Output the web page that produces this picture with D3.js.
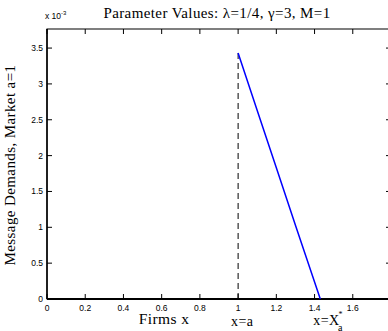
<!DOCTYPE html>
<html>
<head>
<meta charset="utf-8">
<title>Message Demands</title>
<script src="https://cdn.jsdelivr.net/npm/d3@7"></script>
<style>
  body { margin: 0; background: #fff; }
  svg text { fill: #000; }
  .tick-label { font-family: "Liberation Sans", Arial, sans-serif; font-size: 8.5px; }
  .serif { font-family: "Liberation Serif", "DejaVu Serif", serif; letter-spacing: 0.4px; }
</style>
</head>
<body>
<svg id="chart" width="388" height="331"></svg>
<script>
// demand curve for market a=1 (values in units of 1e-3)
var firmsX = [1.0, 1.1, 1.2, 1.3, 1.43];
var demand = [3.43, 2.63, 1.83, 1.03, 0];
var xTicks = [0, 0.2, 0.4, 0.6, 0.8, 1, 1.2, 1.4, 1.6, 1.8];
var xTickLabels = ['0', '0.2', '0.4', '0.6', '0.8', '1', '1.2', '1.4', '1.6', ''];
var yTicks = [0, 0.5, 1, 1.5, 2, 2.5, 3, 3.5];
var yTickLabels = ['0', '0.5', '1', '1.5', '2', '2.5', '3', '3.5'];
var xMark = 1;       // x=a
var xStar = 1.43;    // x=X*_a

var svg = d3.select('#chart');
// plot box edges (note: "top" is reserved on window, so use pTop etc.)
var pLeft = 47, pRight = 391, pTop = 29, pBottom = 299;

var x = d3.scaleLinear().domain([0, 1.8]).range([pLeft, pRight]);
var y = d3.scaleLinear().domain([0, 3.766]).range([pBottom, pTop]);

// ticks, all pointing inward
var tl = 5;
var g = svg.append('g');
xTicks.forEach(function(t, i) {
  g.append('line').attr('x1', x(t)).attr('x2', x(t)).attr('y1', pBottom).attr('y2', pBottom - tl)
    .attr('stroke', '#000');
  g.append('line').attr('x1', x(t)).attr('x2', x(t)).attr('y1', pTop).attr('y2', pTop + tl)
    .attr('stroke', '#000');
  g.append('text').attr('class', 'tick-label').attr('x', x(t)).attr('y', pBottom + 12)
    .attr('text-anchor', 'middle').text(xTickLabels[i]);
});
yTicks.forEach(function(t, i) {
  g.append('line').attr('x1', pLeft).attr('x2', pLeft + tl).attr('y1', y(t)).attr('y2', y(t))
    .attr('stroke', '#000');
  g.append('line').attr('x1', pRight).attr('x2', pRight - tl).attr('y1', y(t)).attr('y2', y(t))
    .attr('stroke', '#000');
  g.append('text').attr('class', 'tick-label').attr('x', pLeft - 4).attr('y', y(t) + 3)
    .attr('text-anchor', 'end').text(yTickLabels[i]);
});

// box
svg.append('rect').attr('x', pLeft).attr('y', pTop).attr('width', pRight - pLeft).attr('height', pBottom - pTop)
  .attr('fill', 'none').attr('stroke', '#000').attr('stroke-width', 1);
svg.append('line').attr('x1', pLeft).attr('x2', pRight).attr('y1', pBottom).attr('y2', pBottom)
  .attr('stroke', '#000').attr('stroke-width', 2);
svg.append('line').attr('x1', pLeft).attr('x2', pLeft).attr('y1', pTop).attr('y2', pBottom)
  .attr('stroke', '#000').attr('stroke-width', 1.5);

// exponent
var ex = svg.append('text').attr('class', 'tick-label').attr('x', pLeft - 2).attr('y', 19).attr('font-size', '8px');
ex.append('tspan').text('x 10');
ex.append('tspan').attr('dy', -4).attr('font-size', '6px').text('-3');

// dashed line at x=a
svg.append('line').attr('x1', x(xMark)).attr('x2', x(xMark)).attr('y1', y(0)).attr('y2', y(demand[0]))
  .attr('stroke', '#000').attr('stroke-dasharray', '6,4');

// demand curve
var line = d3.line().x(function(d, i) { return x(firmsX[i]); }).y(function(d) { return y(d); });
svg.append('path').datum(demand).attr('d', line).attr('fill', 'none')
  .attr('stroke', '#0000ff').attr('stroke-width', 1.5);

// title and labels
svg.append('text').attr('class', 'serif').attr('x', (pLeft + pRight) / 2 - 2).attr('y', 18)
  .attr('text-anchor', 'middle').attr('font-size', '15px')
  .text('Parameter Values: \u03bb=1/4, \u03b3=3, M=1');
svg.append('text').attr('class', 'serif').attr('x', 164).attr('y', 324)
  .attr('text-anchor', 'middle').attr('font-size', '15.5px').text('Firms x');
svg.append('text').attr('class', 'serif').attr('x', x(xMark) - 7).attr('y', 326)
  .attr('font-size', '14px').text('x=a');
var xs = svg.append('text').attr('class', 'serif').attr('x', x(xStar) - 7).attr('y', 325)
  .attr('font-size', '14px');
xs.append('tspan').text('x=X');
xs.append('tspan').attr('dy', -8).attr('dx', -1).attr('font-size', '8px').text('*');
xs.append('tspan').attr('dy', 14).attr('dx', -5).attr('font-size', '10px').text('a');
svg.append('text').attr('class', 'serif')
  .attr('transform', 'translate(15,' + 165 + ') rotate(-90)')
  .attr('text-anchor', 'middle').attr('font-size', '15px').text('Message Demands, Market a=1');
</script>
</body>
</html>
